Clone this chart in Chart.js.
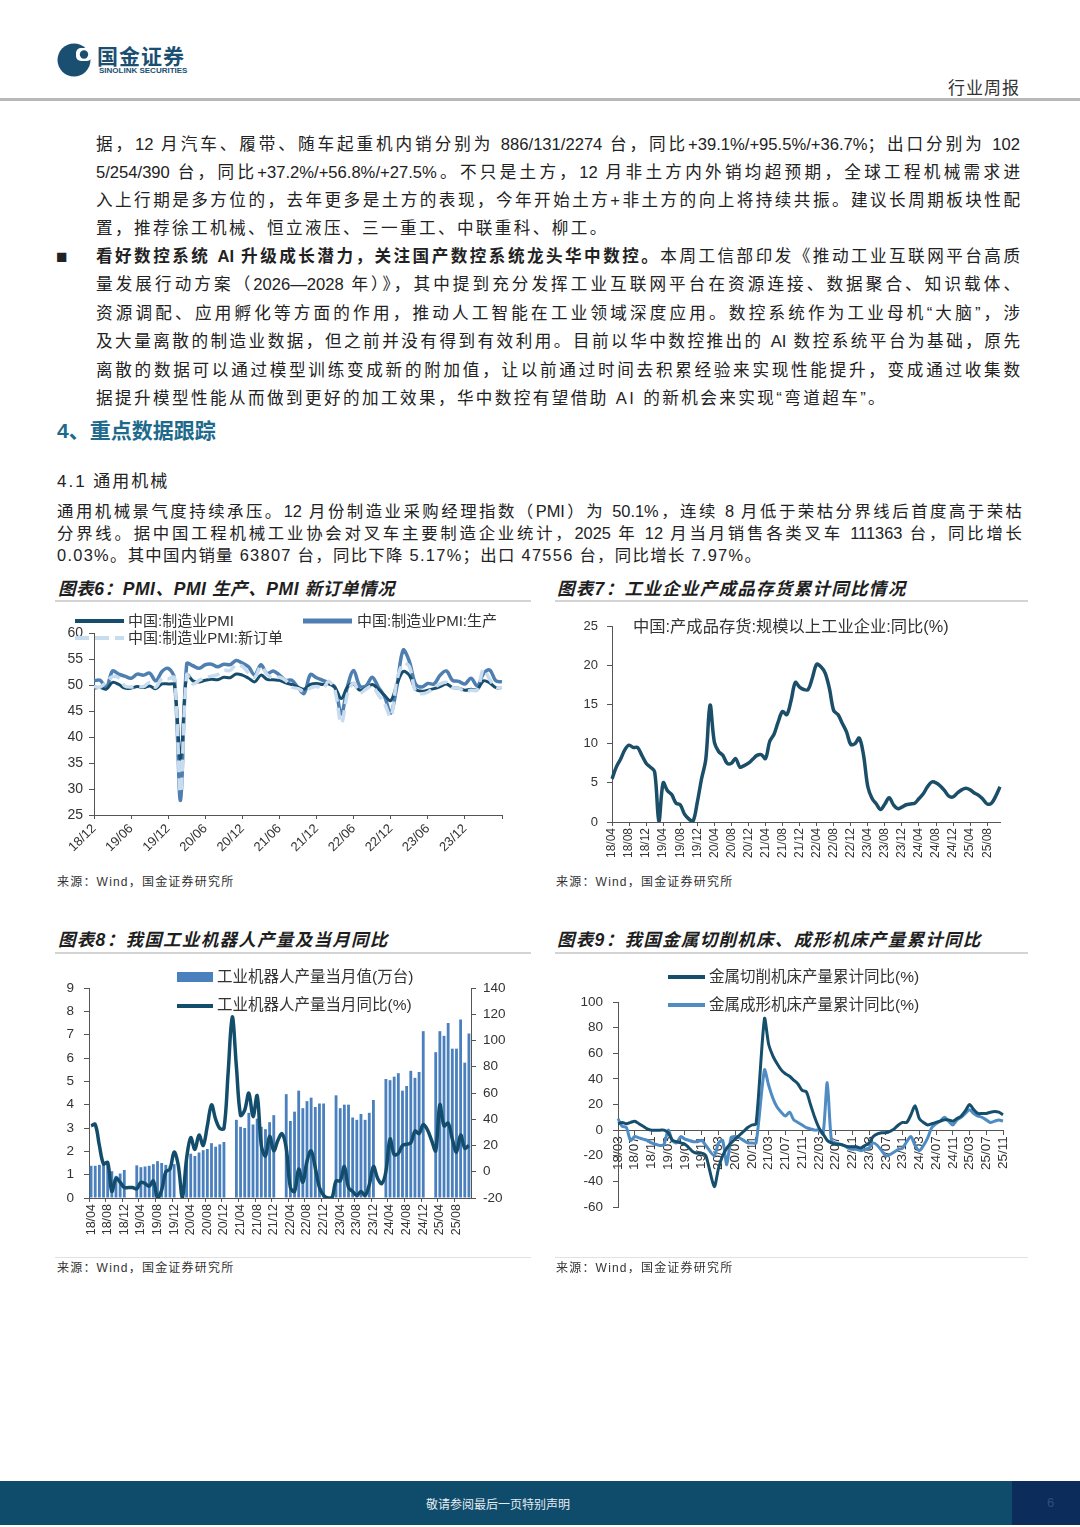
<!DOCTYPE html>
<html>
<head>
<meta charset="utf-8">
<script src="https://cdn.jsdelivr.net/npm/chart.js@4.4.1/dist/chart.umd.min.js"></script>
<style>
  body { margin: 0; }
  #page { position: relative; width: 1080px; height: 1527px; overflow: hidden; background: #fff;
          font-family: 'Liberation Sans', 'Noto Sans CJK SC', sans-serif; color: #222; }
  .t { position: absolute; white-space: nowrap; }
  .jl { position: absolute; font-size: 16.6px; line-height: 24px; text-align: justify; text-align-last: justify; }
  .jl.last { text-align-last: left; letter-spacing: 2.4px; }
  .pl { position: absolute; font-size: 16.4px; line-height: 22px; text-align: justify; text-align-last: justify; }
  .pl.last { text-align-last: left; letter-spacing: 1.3px; }
  .ttl { position: absolute; font-size: 17.5px; letter-spacing: 1.3px; line-height: 22px; font-weight: bold; font-style: italic; white-space: nowrap; color: #1e1e1e; }
  .rule { position: absolute; height: 2px; background: #d4d4d4; }
  .src { position: absolute; font-size: 12px; letter-spacing: 1.2px; line-height: 16px; white-space: nowrap; color: #333; }
  .lg { position: absolute; font-size: 15px; line-height: 18px; white-space: nowrap; color: #333; }
  canvas { position: absolute; }
</style>
</head>
<body>
<div id="page">
  <!-- header -->
  <svg style="position:absolute;left:57px;top:43px" width="38" height="34">
    <circle cx="17" cy="17" r="16.5" fill="#1b4f72"/>
    <rect x="19" y="5" width="16" height="13" rx="5" fill="#fff"/>
    <circle cx="27" cy="11.5" r="4.2" fill="#1b4f72"/>
  </svg>
  <div class="t" style="left:97px;top:46px;font-size:21px;line-height:21px;font-weight:bold;color:#1b4f72;letter-spacing:1px;">国金证券</div>
  <div class="t" style="left:99px;top:67px;font-size:8px;line-height:8px;font-weight:bold;color:#1b4f72;">SINOLINK SECURITIES</div>
  <div class="t" style="left:948px;top:80px;font-size:17px;line-height:18px;color:#333;letter-spacing:1px;">行业周报</div>
  <div style="position:absolute;left:0;top:98px;width:1080px;height:3px;background:#b8b8b8;"></div>

  <!-- body text -->
  <div class="jl" style="left:96px;top:133px;width:924px;">据，12 月汽车、履带、随车起重机内销分别为 886/131/2274 台，同比+39.1%/+95.5%/+36.7%；出口分别为 102</div>
  <div class="jl" style="left:96px;top:161px;width:924px;">5/254/390 台，同比+37.2%/+56.8%/+27.5%。不只是土方，12 月非土方内外销均超预期，全球工程机械需求进</div>
  <div class="jl" style="left:96px;top:189px;width:924px;">入上行期是多方位的，去年更多是土方的表现，今年开始土方+非土方的向上将持续共振。建议长周期板块性配</div>
  <div class="jl last" style="left:96px;top:217px;width:924px;">置，推荐徐工机械、恒立液压、三一重工、中联重科、柳工。</div>
  <div class="t" style="left:56px;top:246px;font-size:19px;line-height:22px;">■</div>
  <div class="jl" style="left:96px;top:245px;width:924px;"><b>看好数控系统 AI 升级成长潜力，关注国产数控系统龙头华中数控。</b>本周工信部印发《推动工业互联网平台高质</div>
  <div class="jl" style="left:96px;top:273px;width:924px;">量发展行动方案（2026—2028 年）》，其中提到充分发挥工业互联网平台在资源连接、数据聚合、知识载体、</div>
  <div class="jl" style="left:96px;top:302px;width:924px;">资源调配、应用孵化等方面的作用，推动人工智能在工业领域深度应用。数控系统作为工业母机“大脑”，涉</div>
  <div class="jl" style="left:96px;top:330px;width:924px;">及大量离散的制造业数据，但之前并没有得到有效利用。目前以华中数控推出的 AI 数控系统平台为基础，原先</div>
  <div class="jl" style="left:96px;top:359px;width:924px;">离散的数据可以通过模型训练变成新的附加值，让以前通过时间去积累经验来实现性能提升，变成通过收集数</div>
  <div class="jl last" style="left:96px;top:387px;width:924px;">据提升模型性能从而做到更好的加工效果，华中数控有望借助 AI 的新机会来实现“弯道超车”。</div>

  <div class="t" style="left:57px;top:414px;font-size:21px;font-weight:bold;color:#1d6a8c;">4、重点数据跟踪</div>
  <div class="t" style="left:57px;top:467px;font-size:17px;letter-spacing:2px;">4.1 通用机械</div>
  <div class="pl" style="left:57px;top:500px;width:965px;">通用机械景气度持续承压。12 月份制造业采购经理指数（PMI）为 50.1%，连续 8 月低于荣枯分界线后首度高于荣枯</div>
  <div class="pl" style="left:57px;top:522px;width:965px;">分界线。据中国工程机械工业协会对叉车主要制造企业统计，2025 年 12 月当月销售各类叉车 111363 台，同比增长</div>
  <div class="pl last" style="left:57px;top:544px;width:965px;">0.03%。其中国内销量 63807 台，同比下降 5.17%；出口 47556 台，同比增长 7.97%。</div>

  <!-- chart titles -->
  <div class="ttl" style="left:58px;top:578px;letter-spacing:0.6px;">图表6：PMI、PMI 生产、PMI 新订单情况</div>
  <div class="rule" style="left:55px;top:600px;width:476px;"></div>
  <div class="ttl" style="left:557px;top:578px;">图表7：工业企业产成品存货累计同比情况</div>
  <div class="rule" style="left:555px;top:600px;width:473px;"></div>
  <div class="ttl" style="left:58px;top:929px;">图表8：我国工业机器人产量及当月同比</div>
  <div class="rule" style="left:55px;top:952px;width:476px;"></div>
  <div class="ttl" style="left:557px;top:929px;">图表9：我国金属切削机床、成形机床产量累计同比</div>
  <div class="rule" style="left:555px;top:952px;width:473px;"></div>

  <canvas id="c6" width="475" height="265" style="left:55px;top:605px;"></canvas>
  <canvas id="c7" width="475" height="270" style="left:555px;top:600px;"></canvas>
  <canvas id="c8" width="475" height="285" style="left:55px;top:960px;"></canvas>
  <canvas id="c9" width="475" height="300" style="left:555px;top:960px;"></canvas>

  <!-- legends -->
  <svg style="position:absolute;left:74px;top:612px" width="52" height="34">
    <line x1="1" y1="9" x2="50" y2="9" stroke="#164d6c" stroke-width="4"/>
    <line x1="1" y1="26" x2="50" y2="26" stroke="#c8dcef" stroke-width="4" stroke-dasharray="14,6"/>
  </svg>
  <div class="lg" style="left:128px;top:612px;">中国:制造业PMI</div>
  <div class="lg" style="left:128px;top:629px;">中国:制造业PMI:新订单</div>
  <svg style="position:absolute;left:302px;top:612px" width="52" height="18">
    <line x1="1" y1="9" x2="50" y2="9" stroke="#4f7fb0" stroke-width="5"/>
  </svg>
  <div class="lg" style="left:357px;top:612px;">中国:制造业PMI:生产</div>

  <div class="lg" style="left:633px;top:617px;font-size:16.3px;">中国:产成品存货:规模以上工业企业:同比(%)</div>

  <div style="position:absolute;left:177px;top:972px;width:36px;height:10px;background:#4b80be;"></div>
  <div class="lg" style="left:217px;top:968px;font-size:15.5px;">工业机器人产量当月值(万台)</div>
  <div style="position:absolute;left:177px;top:1004px;width:36px;height:4px;background:#134d6c;"></div>
  <div class="lg" style="left:217px;top:996px;font-size:15.5px;">工业机器人产量当月同比(%)</div>

  <div style="position:absolute;left:668px;top:975px;width:37px;height:4px;background:#164f6c;"></div>
  <div class="lg" style="left:709px;top:968px;font-size:15.5px;">金属切削机床产量累计同比(%)</div>
  <div style="position:absolute;left:668px;top:1003px;width:37px;height:4px;background:#4f8cc4;"></div>
  <div class="lg" style="left:709px;top:996px;font-size:15.5px;">金属成形机床产量累计同比(%)</div>

  <!-- sources -->
  <div class="src" style="left:57px;top:874px;">来源：Wind，国金证券研究所</div>
  <div class="src" style="left:556px;top:874px;">来源：Wind，国金证券研究所</div>
  <div class="rule" style="left:55px;top:1257px;width:476px;height:1px;background:#e2e2e2;"></div>
  <div class="rule" style="left:555px;top:1257px;width:473px;height:1px;background:#e2e2e2;"></div>
  <div class="src" style="left:57px;top:1260px;">来源：Wind，国金证券研究所</div>
  <div class="src" style="left:556px;top:1260px;">来源：Wind，国金证券研究所</div>

  <!-- footer -->
  <div style="position:absolute;left:0;top:1481px;width:1080px;height:44px;background:#0f4c6c;"></div>
  <div style="position:absolute;left:1012px;top:1481px;width:68px;height:44px;background:#0c2c5c;"></div>
  <div class="t" style="left:426px;top:1495px;font-size:12px;color:#e6edf2;">敬请参阅最后一页特别声明</div>
  <div class="t" style="left:1047px;top:1495px;font-size:13px;color:#2e4f80;">6</div>
</div>

<script>
// ---- data ----
function monthLabels(y, m, n) {
    const out = [];
    for (let k = 0; k < n; k++) {
        const mm = (m - 1 + k) % 12 + 1;
        const yy = y + Math.floor((m - 1 + k) / 12);
        out.push(String(yy % 100).padStart(2, '0') + '/' + String(mm).padStart(2, '0'));
    }
    return out;
}

// 图表6 (2018/12 - 2024/06)
const pmiMonths = monthLabels(18, 12, 67);
const pmi = [49.4, 49.5,49.2,50.5,50.1,49.4,49.4,49.7,49.5,49.8,49.3,50.2,50.2,
    50.0,35.7,52.0,50.8,50.6,50.9,51.1,51.0,51.5,51.4,52.1,51.9,
    51.3,50.6,51.9,51.1,51.0,50.9,50.4,50.1,49.6,49.2,50.1,50.3,
    50.1,50.2,49.5,47.4,49.6,50.2,49.0,49.4,50.1,49.2,48.0,47.0,
    50.1,52.6,51.9,49.2,48.8,49.0,49.3,49.7,50.2,49.5,49.4,49.0,
    49.2,49.1,50.8,50.4,49.5,49.5];
const pmiProd = [50.8, 50.9,49.5,52.7,52.1,51.7,51.3,52.1,51.9,52.3,50.8,52.6,53.2,
    51.3,27.8,54.1,53.7,53.2,53.9,54.0,53.5,54.0,53.9,54.7,54.2,
    53.5,51.9,53.9,52.2,52.7,51.9,50.9,50.9,49.5,48.4,52.0,51.4,
    50.9,50.4,49.5,44.4,49.7,52.8,49.8,49.8,51.5,49.6,47.8,44.6,
    49.8,56.7,54.6,50.2,49.6,50.3,50.2,51.9,52.7,50.9,50.7,50.2,
    51.3,49.8,52.2,52.9,50.8,50.6];
const pmiOrders = [49.7, 49.6,50.6,51.6,51.4,49.8,49.6,49.8,49.7,50.5,49.6,51.3,51.2,
    51.4,29.3,52.0,50.2,50.9,51.4,51.7,52.0,52.8,52.8,53.9,53.6,
    52.3,51.5,53.6,52.0,51.3,51.5,50.9,49.6,49.3,48.8,49.4,49.7,
    49.3,50.7,48.8,42.6,48.2,50.4,48.5,49.2,49.8,48.1,46.4,43.9,
    50.9,54.1,53.6,48.8,48.3,48.6,49.5,50.2,50.5,49.5,49.4,48.7,
    49.0,49.0,53.0,51.1,49.6,49.5];

// 图表7 (2018/04 - 2025/11)
const invMonths = monthLabels(18, 4, 92);
const invYoy = [5.5,7.0,8.0,9.2,9.8,9.5,9.5,8.5,7.5,7.0,
    6.4,0.1,5.0,4.0,3.5,2.4,2.2,1.0,0.4,0.1,
    2.5,5.5,8.0,14.9,10.2,9.0,8.5,7.5,7.5,8.1,
    7.0,7.2,7.5,8.0,8.5,8.6,8.1,10.3,11.2,12.8,
    14.1,13.7,15.5,17.8,17.2,16.9,16.9,18.4,20.1,19.8,
    19.0,17.0,14.2,13.7,12.6,11.5,9.9,10.0,10.7,8.5,
    4.5,3.0,2.3,1.6,2.3,3.1,2.2,1.7,1.9,2.2,
    2.3,2.4,3.0,3.6,4.5,5.1,5.0,4.6,4.0,3.3,
    3.2,3.7,4.1,4.3,4.1,3.7,3.4,2.9,2.3,2.4,
    3.3,4.5];

// 图表8 (2018/04 - 2025/11)
const robotMonths = monthLabels(18, 4, 92);
const robotOutput = [1.38,1.38,1.42,1.45,1.45,1.15,0.95,1.05,1.2,
    null,null,
    1.4,1.32,1.35,1.38,1.45,1.58,1.5,1.42,1.38,1.45,
    null,null,
    1.7,1.9,1.8,1.95,2.05,2.1,2.35,2.2,2.3,2.4,
    null,null,
    3.35,3.05,3.0,3.65,3.15,3.4,3.05,2.95,3.25,3.55,
    null,null,
    4.45,3.3,3.7,4.6,3.85,4.15,4.3,3.9,4.05,4.05,
    null,null,
    4.4,3.85,4.0,4.0,3.45,3.35,3.6,3.35,3.65,4.2,
    null,null,
    5.1,5.05,5.2,5.35,4.6,4.8,5.45,5.15,5.4,7.15,
    null,null,
    6.25,7.15,6.95,7.5,6.4,6.4,7.65,5.8,7.05];
const robotYoy = [35,36,20,6,7,-15,-5,-8,-12,-12,
    -12,-13,-8,-9,-11,-7,-20,-14,0,2,
    15,5,-20,10,26,17,28,20,35,51,
    40,33,33,75,118,80,43,47,60,42,
    58,20,12,27,16,24,29,18,-12,-15,
    2,-8,8,16,3,-12,-18,-20,-20,-7,
    -7,4,-12,-15,-18,-15,-18,-10,4,-5,
    -9,0,25,13,14,20,21,22,31,29,
    36,32,24,16,51,35,37,25,15,28,
    18,20];

// 图表9 (2018/03 - 2025/11)
const toolMonths = monthLabels(18, 3, 93);
const cuttingYoy = [5,6,5,6,7,5,3,1,0,0,
    0,0,-2,-8,-9,-10,-11,-14,-17,-18,
    -18,-20,null,-44,-30,-20,-14,-10,-7,-4,
    -1,2,4,5,null,87,67,58,52,47,
    44,42,39,36,31,30,20,10,2,-3,
    -8,-10,-11,-11,-12,-13,-13,-13,-14,-12,
    -10,-5,-3,-2,-2,-1,1,4,6,6,
    12,19,9,6,4,5,6,7,8,8,
    7,9,11,15,20,16,13,13,13,14,
    14.5,14,12];
const formingYoy = [9,3,2,-8,-5,-6,-7,-8,-10,-11,
    -12,-11,0,-8,-10,-5,-7,-8,-9,-9,
    -8,-12,null,-20,-10,-8,-27,-6,-5,-6,
    -8,-10,-10,-10,null,47,35,25,18,14,
    11,14,8,6,4,2,1,0,0,-3,
    37,-8,-10,-11,-12,-14,-15,-15,-16,-15,
    -14,-10,-12,-16,-20,-19,-17,-15,-14,-9,
    -5,-12,-16,-12,-6,2,5,7,10,7,
    4,8,10,13,16,13,11,10,8,6,
    7,8,7];

// ---- helpers ----
Chart.defaults.font.family = "'Liberation Sans','Noto Sans CJK SC',sans-serif";
Chart.defaults.color = '#333';
const AXIS = '#555';

function xCat(step, maxIdx, rot, height, size) {
    return {
        type: 'category',
        ticks: {
            autoSkip: false, minRotation: rot, maxRotation: rot, padding: 2,
            font: { size: size },
            callback: function (v, i) { return (i % step === 0 && i <= maxIdx) ? this.getLabelForValue(v) : ''; }
        },
        grid: { drawOnChartArea: false, tickLength: 4,
                tickColor: c => (c.index % step === 0) ? AXIS : 'rgba(0,0,0,0)' },
        border: { color: AXIS },
        afterFit: height ? (s => { s.height = height; }) : undefined
    };
}
function yLin(min, max, step, width, size, pad, pos) {
    return {
        position: pos || 'left', min: min, max: max,
        ticks: { stepSize: step, font: { size: size }, padding: pad },
        grid: { drawOnChartArea: false, tickLength: 5, tickColor: AXIS },
        border: { color: AXIS },
        afterFit: s => { s.width = width; }
    };
}
const base = {
    responsive: false, animation: false, devicePixelRatio: 1,
    plugins: { legend: { display: false }, tooltip: { enabled: false } },
    elements: { point: { radius: 0 } }
};

// 图表6
new Chart(document.getElementById('c6'), {
    type: 'line',
    data: {
        labels: pmiMonths,
        datasets: [
            { data: pmiOrders, borderColor: '#c8dcef', borderWidth: 3.5, borderDash: [12, 6], tension: 0.35, order: 1 },
            { data: pmi, borderColor: '#164d6c', borderWidth: 3, tension: 0.35, order: 2 },
            { data: pmiProd, borderColor: '#4f7fb0', borderWidth: 3.5, tension: 0.35, order: 3 }
        ]
    },
    options: Object.assign({}, base, {
        layout: { padding: { top: 28, right: 28, bottom: 0, left: 0 } },
        scales: {
            x: Object.assign(xCat(6, 60, 45, 55, 13), { offset: false }),
            y: yLin(25, 60, 5, 39, 14, 6)
        }
    })
});

// 图表7
new Chart(document.getElementById('c7'), {
    type: 'line',
    data: {
        labels: invMonths,
        datasets: [{ data: invYoy, borderColor: '#1b4e68', borderWidth: 3.5, tension: 0.35 }]
    },
    options: Object.assign({}, base, {
        layout: { padding: { top: 26, right: 30, bottom: 0, left: 0 } },
        scales: {
            x: Object.assign(xCat(4, 88, 90, 48, 12), { offset: false }),
            y: yLin(0, 25, 5, 57, 13, 9)
        }
    })
});

// 图表8
new Chart(document.getElementById('c8'), {
    data: {
        labels: robotMonths,
        datasets: [
            { type: 'line', data: robotYoy, yAxisID: 'y1', borderColor: '#134d6c', borderWidth: 3.5, tension: 0.35, order: 0 },
            { type: 'bar', data: robotOutput, yAxisID: 'y', backgroundColor: '#4b80be',
              barPercentage: 0.68, categoryPercentage: 1, order: 1 }
        ]
    },
    options: Object.assign({}, base, {
        layout: { padding: { top: 28, right: 0, bottom: 0, left: 0 } },
        scales: {
            x: Object.assign(xCat(4, 88, 90, 47, 12.5), { offset: true }),
            y: yLin(0, 9, 1, 34, 13.5, 10),
            y1: yLin(-20, 140, 20, 59, 13.5, 7, 'right')
        }
    })
});

// 图表9
new Chart(document.getElementById('c9'), {
    type: 'line',
    data: {
        labels: toolMonths,
        datasets: [
            { data: cuttingYoy, borderColor: '#164f6c', borderWidth: 3, tension: 0.25, spanGaps: true, order: 1 },
            { data: formingYoy, borderColor: '#4f8cc4', borderWidth: 3, tension: 0.25, spanGaps: true, order: 2 }
        ]
    },
    options: Object.assign({}, base, {
        layout: { padding: { top: 42, right: 27, bottom: 53, left: 0 } },
        scales: {
            x: Object.assign(xCat(4, 92, 90, null, 13.5), { offset: false, position: { y: 0 } }),
            y: yLin(-60, 100, 20, 63, 13.5, 10)
        }
    })
});
</script>
</body>
</html>
